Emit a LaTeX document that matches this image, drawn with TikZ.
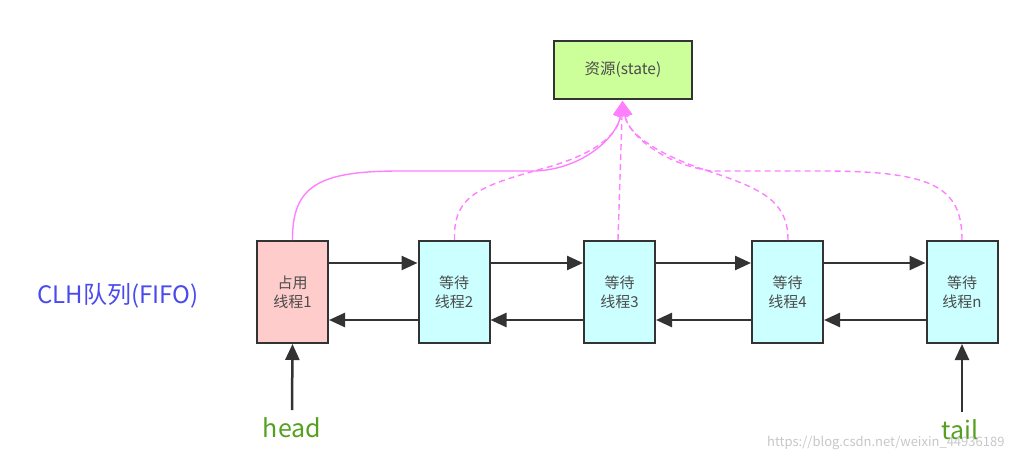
\documentclass[tikz,border=0pt]{standalone}
\usepackage{fontspec}
\setmainfont{Noto Sans CJK SC}
\usetikzlibrary{arrows.meta}
\definecolor{pinkline}{HTML}{FF80FF}
\definecolor{resfill}{HTML}{CCFF99}
\definecolor{occfill}{HTML}{FFCCCC}
\definecolor{waitfill}{HTML}{CCFFFF}
\definecolor{boxline}{HTML}{333333}
\definecolor{labblue}{HTML}{4A4AEE}
\definecolor{labgreen}{HTML}{55A020}
\tikzset{
  box/.style={draw=boxline, line width=2pt, minimum width=71pt, minimum height=102pt, inner sep=0pt, align=center, font=\fontsize{15}{19}\selectfont, text=black!70},
  resbox/.style={draw=boxline, line width=2pt, fill=resfill, minimum width=138pt, minimum height=58pt, inner sep=0pt, font=\fontsize{15.5}{18}\selectfont, text=black!70},
  link/.style={draw=boxline, line width=2.5pt, -{Triangle[width=14pt,length=16pt]}},
  share/.style={draw=pinkline, line width=1.4pt},
  shared/.style={share, dash pattern=on 6pt off 4pt},
  tipp/.style={-{Triangle[width=15pt,length=15pt]}},
  ptr/.style={font=\fontsize{25}{28}\selectfont, text=labgreen}
}
\begin{document}
\begin{tikzpicture}[x=1pt,y=-1pt]
\useasboundingbox (0,0) rectangle (1016,462);
\node[resbox] (res) at (623,70) {资源(state)};
\node[box, fill=occfill] (b1) at (292.5,292) {占用\\线程1};
\node[box, fill=waitfill] (b2) at (454,292) {等待\\线程2};
\node[box, fill=waitfill] (b3) at (619.5,292) {等待\\线程3};
\node[box, fill=waitfill] (b4) at (787.5,292) {等待\\线程4};
\node[box, fill=waitfill] (b5) at (962,292) {等待\\线程n};

\coordinate (t) at (622.5,101);
% pink connectors
\draw[shared, tipp] ([xshift=0.5pt]b2.north) .. controls (453,195) and (480,186) .. (545,168) .. controls (595,154) and (618,135) .. (t);
\draw[shared, tipp] ([xshift=-1.5pt]b3.north) -- (t);
\draw[shared, tipp] ([xshift=0.5pt]b4.north) .. controls (788,200) and (760,188) .. (705,170) .. controls (660,155) and (628,135) .. (t);
\draw[shared, tipp] ([xshift=0pt]b5.north) .. controls (962,185) and (930,171) .. (820,171) -- (712,171) .. controls (665,165) and (628,135) .. (t);
\draw[share, tipp] ([xshift=0pt]b1.north) .. controls (292,185) and (320,171) .. (400,171) -- (535,171) .. controls (585,169) and (618,135) .. (t);

% queue links
\foreach \a/\b in {b1/b2,b2/b3,b3/b4,b4/b5}{
  \draw[link] ([yshift=29pt]\a.east) -- ([yshift=29pt]\b.west);
  \draw[link] ([yshift=-28pt]\b.west) -- ([yshift=-28pt]\a.east);
}

\node[font=\fontsize{24}{28}\selectfont, text=labblue] (clh) at (118,296) {CLH队列(FIFO)};
\node[ptr] (head) at (292,428) {head};
\node[ptr] (tail) at (960,430) {tail};
\draw[link] (292,410) -- (b1.south);
\draw[link] (962,412) -- (b5.south);
\node[font=\fontsize{13}{15}\selectfont, text=black!22, anchor=east] (wm) at (1008,443) {https://blog.csdn.net/weixin\_44936189};
\end{tikzpicture}
\end{document}
